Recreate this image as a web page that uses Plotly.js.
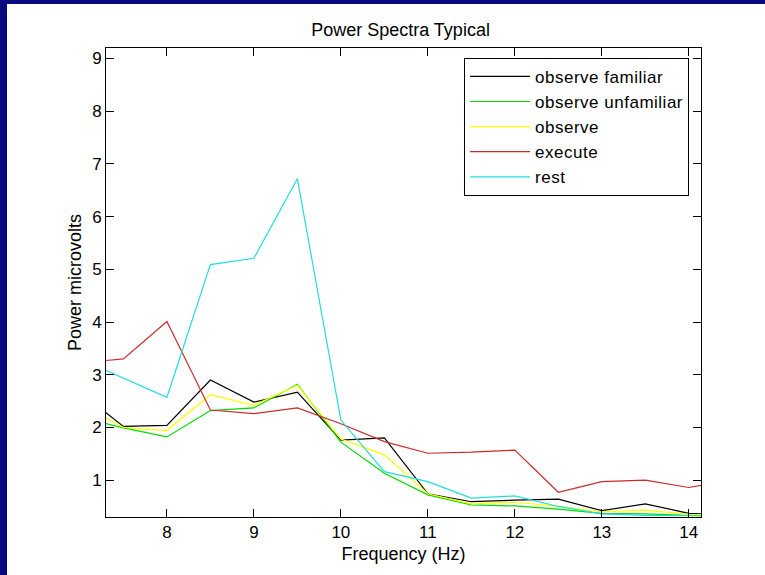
<!DOCTYPE html>
<html>
<head>
<meta charset="utf-8">
<script src="https://cdn.plot.ly/plotly-3.0.1.min.js"></script>
<style>
  html, body { margin: 0; padding: 0; background: #0a0a80; width: 765px; height: 575px; overflow: hidden; }
  #chart { position: absolute; left: 7px; top: 4px; width: 758px; height: 571px; }
  .legendtext { letter-spacing: 0.5px; }
</style>
</head>
<body>
<div id="chart"></div>
<script>
// Frequency bins (Hz)
const freq = [7, 7.5, 8, 8.5, 9, 9.5, 10, 10.5, 11, 11.5, 12, 12.5, 13, 13.5, 14, 14.5];
// Power (microvolts) per condition
const observeFamiliar   = [2.67, 2.02, 2.04, 2.90, 2.48, 2.67, 1.76, 1.80, 0.74, 0.59, 0.62, 0.64, 0.42, 0.55, 0.37, 0.34];
const observeUnfamiliar = [2.19, 1.99, 1.82, 2.32, 2.37, 2.82, 1.72, 1.13, 0.72, 0.53, 0.51, 0.45, 0.37, 0.36, 0.33, 0.32];
const observe           = [2.45, 2.00, 1.94, 2.62, 2.42, 2.80, 1.78, 1.48, 0.74, 0.55, 0.58, 0.50, 0.40, 0.43, 0.35, 0.33];
const execute           = [3.225, 3.30, 4.01, 2.33, 2.26, 2.37, 2.07, 1.73, 1.51, 1.53, 1.57, 0.77, 0.97, 1.00, 0.86, 1.00];
const rest              = [3.30, 2.93, 2.57, 5.09, 5.21, 6.72, 2.14, 1.16, 0.97, 0.66, 0.70, 0.50, 0.36, 0.33, 0.32, 0.32];

const seriesNames = ['observe familiar', 'observe unfamiliar', 'observe', 'execute', 'rest'];
const seriesData = [observeFamiliar, observeUnfamiliar, observe, execute, rest];
const seriesColors = ['#000000', '#00dd00', '#ffff00', '#cc2a2a', '#22dddd'];

const xTicks = [8, 9, 10, 11, 12, 13, 14];
const yTicks = [1, 2, 3, 4, 5, 6, 7, 8, 9];

const FONT = 'Liberation Sans, Arial, Helvetica, sans-serif';

const traces = seriesNames.map((name, i) => ({
  type: 'scatter',
  mode: 'lines',
  x: freq,
  y: seriesData[i],
  name: name,
  line: { color: seriesColors[i], width: 1.2 },
  hoverinfo: 'skip'
}));

const layout = {
  width: 758,
  height: 571,
  margin: { l: 99, r: 64, t: 44, b: 58 },
  paper_bgcolor: '#ffffff',
  plot_bgcolor: '#ffffff',
  font: { family: FONT, size: 17, color: '#000000' },
  title: {
    text: 'Power Spectra Typical',
    font: { family: FONT, size: 18, color: '#000000' },
    x: 0.495,
    xanchor: 'center',
    xref: 'paper',
    y: 1 - 26 / 571,
    yref: 'container',
    yanchor: 'middle'
  },
  xaxis: {
    range: [7.3, 14.14],
    tickvals: xTicks,
    ticktext: xTicks.map(String),
    ticks: 'inside',
    ticklen: 8,
    tickcolor: '#000000',
    showline: true,
    linecolor: '#000000',
    linewidth: 1,
    mirror: 'ticks',
    showgrid: false,
    zeroline: false,
    tickfont: { family: FONT, size: 17 },
    title: { text: 'Frequency (Hz)', font: { family: FONT, size: 18 }, standoff: 5 }
  },
  yaxis: {
    range: [0.3, 9.2],
    tickvals: yTicks,
    ticktext: yTicks.map(String),
    ticks: 'inside',
    ticklen: 8,
    tickcolor: '#000000',
    showline: true,
    linecolor: '#000000',
    linewidth: 1,
    mirror: 'ticks',
    showgrid: false,
    zeroline: false,
    tickfont: { family: FONT, size: 17 },
    title: { text: 'Power microvolts', font: { family: FONT, size: 18 }, standoff: 5 }
  },
  showlegend: true,
  legend: {
    x: 0.98,
    xanchor: 'right',
    y: 0.979,
    yanchor: 'top',
    bordercolor: '#000000',
    borderwidth: 1,
    bgcolor: '#ffffff',
    font: { family: FONT, size: 17, color: '#000000' },
    itemwidth: 60
  }
};

Plotly.newPlot('chart', traces, layout, { displayModeBar: false, staticPlot: true });
</script>
</body>
</html>
